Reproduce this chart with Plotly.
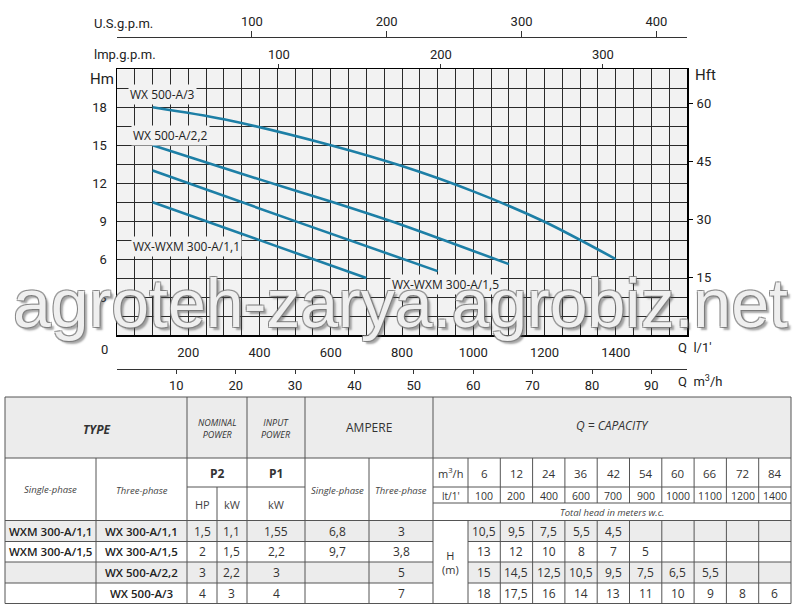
import plotly.graph_objects as go

# ---------------- data ----------------
# table: capacity points
q_lpm = [100, 200, 400, 600, 700, 900, 1000, 1100, 1200, 1400]
q_m3h = [6, 12, 24, 36, 42, 54, 60, 66, 72, 84]

# table: total head (m) per model
head_300_11 = [10.5, 9.5, 7.5, 5.5, 4.5]
head_300_15 = [13, 12, 10, 8, 7, 5]
head_500_22 = [15, 14.5, 12.5, 10.5, 9.5, 7.5, 6.5, 5.5]
head_500_3 = [18, 17.5, 16, 14, 13, 11, 10, 9, 8, 6]
heads = [head_300_11, head_300_15, head_500_22, head_500_3]

# curves (Q in l/min, H in m)
curve_q_300_11 = [100, 400, 700]
curve_h_300_11 = [10.5, 7.5, 4.5]
curve_q_300_15 = [100, 500, 900]
curve_h_300_15 = [13, 9, 5.05]
curve_q_500_22 = [100, 400, 600, 800, 1100]
curve_h_500_22 = [15, 12.3, 10.55, 8.7, 5.6]
curve_q_500_3 = [100, 300, 600, 800, 1000, 1200, 1400]
curve_h_500_3 = [18, 17.05, 15, 13.35, 11.35, 8.95, 6.0]
curves = [(curve_q_300_11, curve_h_300_11), (curve_q_300_15, curve_h_300_15),
          (curve_q_500_22, curve_h_500_22), (curve_q_500_3, curve_h_500_3)]

curve_labels = ["WX-WXM 300-A/1,1", "WX-WXM 300-A/1,5", "WX 500-A/2,2", "WX 500-A/3"]

models_single = ["WXM 300-A/1,1", "WXM 300-A/1,5", "", ""]
models_three = ["WX 300-A/1,1", "WX 300-A/1,5", "WX 500-A/2,2", "WX 500-A/3"]
p2_hp = ["1,5", "2", "3", "4"]
p2_kw = ["1,1", "1,5", "2,2", "3"]
p1_kw = ["1,55", "2,2", "3", "4"]
amp_single = ["6,8", "9,7", "", ""]
amp_three = ["3", "3,8", "5", "7"]

q_lpm_ticks = [200, 400, 600, 800, 1000, 1200, 1400]
q_m3h_ticks = [10, 20, 30, 40, 50, 60, 70, 80, 90]
us_gpm_ticks = [100, 200, 300, 400]
imp_gpm_ticks = [100, 200, 300]
hm_ticks = [3, 6, 9, 12, 15, 18]
hft_ticks = [15, 30, 45, 60]

# unit conversions
L_PER_USGAL = 3.785411784
L_PER_IMPGAL = 4.54609
M_PER_FT = 0.3048

# ---------------- layout constants ----------------
W, H = 800, 610
Q_MAX = 1600
H_MAX = 21
GRID_Q = 50
GRID_H = 1.5
FONT = "Roboto"
TFONT = "Open Sans"
CURVE_COLOR = "#1d7fa6"
GRID_COLOR = "#2a2a2a"
TXT = "#222222"


def px(x):
    return x / W


def py(y):
    return 1 - y / H


def fmt(v):
    return ("%g" % v).replace(".", ",")


X0, X1 = 117, 687
Y0, Y1 = 69.3, 335

fig = go.Figure()

for (cq, ch), name in zip(curves, curve_labels):
    fig.add_trace(go.Scatter(
        x=cq, y=ch, mode="lines", name=name,
        line=dict(color=CURVE_COLOR, width=2.6, shape="spline", smoothing=0.8),
        hoverinfo="skip", showlegend=False))

# dummy traces to register secondary axes
fig.add_trace(go.Scatter(x=[None], y=[None], xaxis="x", yaxis="y2", showlegend=False))
fig.add_trace(go.Scatter(x=[None], y=[None], xaxis="x2", yaxis="y", showlegend=False))
fig.add_trace(go.Scatter(x=[None], y=[None], xaxis="x3", yaxis="y", showlegend=False))
fig.add_trace(go.Scatter(x=[None], y=[None], xaxis="x4", yaxis="y", showlegend=False))

n_qgrid = int(Q_MAX / GRID_Q) + 1
q_grid = [i * GRID_Q for i in range(n_qgrid)]
q_text = [str(v) if v in q_lpm_ticks else " " for v in q_grid]
n_hgrid = int(round(H_MAX / GRID_H)) + 1
h_grid = [i * GRID_H for i in range(n_hgrid)]
h_text = [("%g" % v) if v in hm_ticks else " " for v in h_grid]

tick_font = dict(family=FONT, size=13, color=TXT)

fig.update_layout(
    width=W, height=H, autosize=False,
    margin=dict(l=0, r=0, t=0, b=0, pad=0, autoexpand=False),
    paper_bgcolor="white",
    plot_bgcolor="#f2f2f2",
    showlegend=False,
    xaxis=dict(domain=[px(X0), px(X1)], range=[0, Q_MAX], tickmode="array",
               tickvals=q_grid, ticktext=q_text, tickangle=0, showgrid=True,
               gridcolor=GRID_COLOR, gridwidth=1, zeroline=False, showline=True,
               linecolor="black", linewidth=1.5, mirror=True, ticks="",
               tickfont=tick_font, ticklabelstandoff=5, fixedrange=True,
               automargin=False),
    yaxis=dict(domain=[py(Y1), py(Y0)], range=[0, H_MAX], tickmode="array",
               tickvals=h_grid, ticktext=h_text, showgrid=True, gridcolor=GRID_COLOR,
               gridwidth=1, zeroline=False, showline=True, linecolor="black",
               linewidth=1.5, mirror=True, ticks="", tickfont=tick_font,
               ticklabelstandoff=6, fixedrange=True, automargin=False),
    yaxis2=dict(overlaying="y", side="right", anchor="x", range=[0, H_MAX / M_PER_FT],
                tickmode="array", tickvals=hft_ticks, showgrid=False, zeroline=False,
                showline=False, ticks="outside", ticklen=5, tickcolor="black",
                tickfont=tick_font, ticklabelstandoff=1, fixedrange=True,
                automargin=False),
    xaxis2=dict(overlaying="x", side="top", anchor="free", position=py(37),
                range=[0, Q_MAX / L_PER_USGAL], tickmode="array", tickvals=us_gpm_ticks,
                tickangle=0, showgrid=False, zeroline=False, showline=True,
                linecolor="#333", linewidth=1, ticks="outside", ticklen=6,
                tickcolor="#333", tickfont=tick_font, fixedrange=True, automargin=False),
    xaxis3=dict(overlaying="x", side="top", anchor="y",
                range=[0, Q_MAX / L_PER_IMPGAL], tickmode="array", tickvals=imp_gpm_ticks,
                tickangle=0, showgrid=False, zeroline=False, showline=False,
                ticks="outside", ticklen=4, tickcolor="#333", tickfont=tick_font,
                fixedrange=True, automargin=False),
    xaxis4=dict(overlaying="x", side="bottom", anchor="free", position=py(369),
                range=[0, Q_MAX * 60 / 1000], tickmode="array", tickvals=q_m3h_ticks,
                tickangle=0, showgrid=False, zeroline=False, showline=True,
                linecolor="#333", linewidth=1, ticks="outside", ticklen=4,
                tickcolor="#333", tickfont=tick_font, fixedrange=True, automargin=False),
)

ann = []


def text(x, y, s, size=13, family=FONT, color=TXT, xanchor="center", **kw):
    ann.append(dict(x=px(x), y=py(y), xref="paper", yref="paper", text=s,
                    showarrow=False, xanchor=xanchor, yanchor="middle",
                    font=dict(family=family, size=size, color=color, **kw)))


# axis titles
text(92, 24, "U.S.g.p.m.", xanchor="left")
text(92, 55, "lmp.g.p.m.", xanchor="left")
text(88, 79, "Hm", size=15, xanchor="left")
text(693, 75, "Hft", size=15, xanchor="left")
text(104, 349, "0")
text(676, 347, "Q  l/1'", xanchor="left")
text(676, 381, "Q  m<sup>3</sup>/h", xanchor="left")

# curve labels (data coordinates)
label_pos = [(195, 6.96), (921, 4.03), (149, 15.8), (129, 18.97)]
for name, (lx, ly) in zip(curve_labels, label_pos):
    ann.append(dict(x=lx, y=ly, xref="x", yref="y", text=name, showarrow=False,
                    bgcolor="#f2f2f2", borderpad=1,
                    font=dict(family=TFONT, size=12, color="#222")))

# ---------------- table ----------------
shapes = []
QX = [468 + i * (791 - 468) / 10 for i in range(11)]
DY = [520.5, 541.5, 562, 583, 603.5]
LINE = dict(color="#555555", width=1)
FILL = "#ececec"


def rect(x0, y0, x1, y1, fill):
    shapes.append(dict(type="rect", xref="paper", yref="paper", x0=px(x0), x1=px(x1),
                       y0=py(y1), y1=py(y0), fillcolor=fill, line=dict(width=0),
                       layer="below"))


def hline(x0, x1, y):
    shapes.append(dict(type="line", xref="paper", yref="paper", x0=px(x0), x1=px(x1),
                       y0=py(y), y1=py(y), line=LINE))


def vline(x, y0, y1):
    shapes.append(dict(type="line", xref="paper", yref="paper", x0=px(x), x1=px(x),
                       y0=py(y0), y1=py(y1), line=LINE))


# fills
rect(5, 397, 791, 458, FILL)
for i in (0, 2):
    rect(5, DY[i], 433, DY[i + 1], FILL)
    rect(468, DY[i], 791, DY[i + 1], FILL)

# horizontal lines
hline(5, 791, 397)
hline(5, 791, 458)
hline(187, 305, 487)
hline(433, 791, 487)
hline(433, 791, 503)
hline(5, 791, 520.5)
for y in DY[1:-1]:
    hline(5, 433, y)
    hline(468, 791, y)
hline(5, 791, 603.5)

# vertical lines
vline(5, 397, 603.5)
vline(791, 397, 603.5)
vline(96, 458, 603.5)
vline(187, 397, 603.5)
vline(217, 487, 603.5)
vline(247, 397, 603.5)
vline(305, 397, 603.5)
vline(369, 458, 603.5)
vline(433, 397, 603.5)
for x in QX[:-1]:
    vline(x, 458, 503)
    vline(x, 520.5, 603.5)

# header texts
text(96, 429, "<b><i>TYPE</i></b>", size=12, family=TFONT, color="#333")
text(217, 428, "<i>NOMINAL<br>POWER</i>", size=9, family=TFONT, color="#333")
text(276, 428, "<i>INPUT<br>POWER</i>", size=9, family=TFONT, color="#333")
text(369, 427, "AMPERE", size=12, family=TFONT, color="#333")
text(612, 425, "<i>Q = CAPACITY</i>", size=12, family=TFONT, color="#333")

text(50.5, 489, "<i>Single-phase</i>", size=9.5, family=TFONT, color="#444")
text(141.5, 490, "<i>Three-phase</i>", size=9.5, family=TFONT, color="#444")
text(217, 473, "<b>P2</b>", size=12, family=TFONT, color="#333")
text(276, 473, "<b>P1</b>", size=12, family=TFONT, color="#333")
text(202, 504, "HP", size=11, family=TFONT, color="#444")
text(232, 504, "kW", size=11, family=TFONT, color="#444")
text(276, 504, "kW", size=11, family=TFONT, color="#444")
text(337, 490, "<i>Single-phase</i>", size=9.5, family=TFONT, color="#444")
text(401, 490, "<i>Three-phase</i>", size=9.5, family=TFONT, color="#444")

text(450.5, 473, "m<sup>3</sup>/h", size=11, family=TFONT, color="#333")
text(450.5, 495.5, "lt/1'", size=10, family=TFONT, color="#333")
for i, (qm, ql) in enumerate(zip(q_m3h, q_lpm)):
    cx = (QX[i] + QX[i + 1]) / 2
    text(cx, 473, str(qm), size=11.5, family=TFONT, color="#333")
    text(cx, 495.5, str(ql), size=10.5, family=TFONT, color="#333")
text(612, 512, "<i>Total head in meters w.c.</i>", size=9.5, family=TFONT, color="#444")
text(450.5, 562, "H<br>(m)", size=11, family=TFONT, color="#333")

for r in range(4):
    cy = (DY[r] + DY[r + 1]) / 2
    if models_single[r]:
        text(50.5, cy, models_single[r], size=11.5, family=TFONT, color="#222", weight=600)
    text(141.5, cy, models_three[r], size=11.5, family=TFONT, color="#222", weight=600)
    text(202, cy, p2_hp[r], size=12, family=TFONT, color="#333")
    text(232, cy, p2_kw[r], size=12, family=TFONT, color="#333")
    text(276, cy, p1_kw[r], size=12, family=TFONT, color="#333")
    if amp_single[r]:
        text(337, cy, amp_single[r], size=12, family=TFONT, color="#333")
    text(401, cy, amp_three[r], size=12, family=TFONT, color="#333")
    for i, hv in enumerate(heads[r]):
        cx = (QX[i] + QX[i + 1]) / 2
        text(cx, cy, fmt(hv), size=12, family=TFONT, color="#333")

# watermark
ann.append(dict(x=0.5, y=py(303), xref="paper", yref="paper",
                text="agroteh-zarya.agrobiz.net", showarrow=False,
                xanchor="center", yanchor="middle",
                font=dict(family="Liberation Sans", size=68,
                          color="rgba(255,255,255,0.88)",
                          shadow="-1px -1px 0 rgba(120,120,120,0.8), 1px -1px 0 rgba(120,120,120,0.8), -1px 1px 0 rgba(120,120,120,0.8), 1px 1px 0 rgba(120,120,120,0.8), 3px 3px 2px rgba(70,70,70,0.55)")))

fig.update_layout(annotations=ann, shapes=shapes)

fig.write_html("out.html", config={"displayModeBar": False, "staticPlot": True},
               post_script="document.body.style.margin='0px';document.body.style.overflow='hidden';")
